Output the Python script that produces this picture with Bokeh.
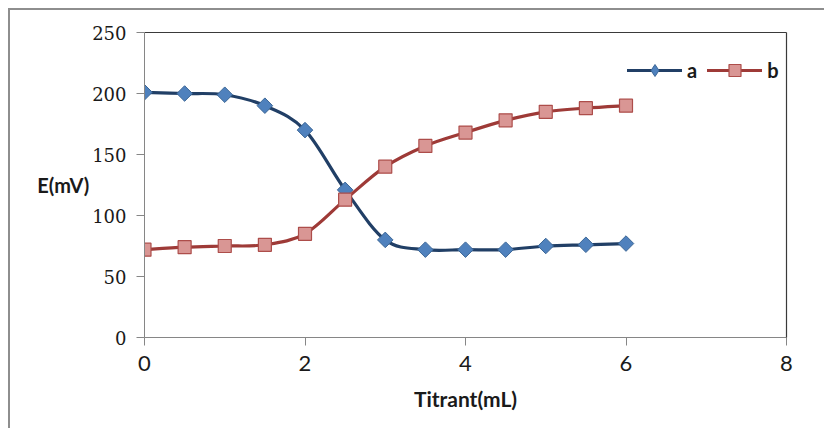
from bokeh.plotting import figure
from bokeh.models import (Range1d, FixedTicker, LinearAxis, Legend, LegendItem,
                          ColumnDataSource)
from bokeh.embed import file_html
from bokeh.resources import INLINE
import math

# ---- data ----
titrant_ml = [0, 0.5, 1, 1.5, 2, 2.5, 3, 3.5, 4, 4.5, 5, 5.5, 6]
series_a_mv = [201, 200, 199, 190, 170, 121, 80, 72, 72, 72, 75, 76, 77]
series_b_mv = [72, 74, 75, 76, 85, 113, 140, 157, 168, 178, 185, 188, 190]
series_names = ["a", "b"]
x_ticks = [0, 2, 4, 6, 8]
y_ticks = [0, 50, 100, 150, 200, 250]
x_axis_title = "Titrant(mL)"
y_axis_title = "E(mV)"


def smooth_source(xs, ys, t=1.0 / 6.0):
    """Cubic Bezier segments through the data points (Excel-style smoothing)."""
    n = len(xs)
    d = dict(x0=[], y0=[], x1=[], y1=[], cx0=[], cy0=[], cx1=[], cy1=[])
    for i in range(n - 1):
        ip = max(i - 1, 0)
        inx = min(i + 2, n - 1)
        d["x0"].append(xs[i]); d["y0"].append(ys[i])
        d["x1"].append(xs[i + 1]); d["y1"].append(ys[i + 1])
        d["cx0"].append(xs[i] + (xs[i + 1] - xs[ip]) * t)
        d["cy0"].append(ys[i] + (ys[i + 1] - ys[ip]) * t)
        d["cx1"].append(xs[i + 1] - (xs[inx] - xs[i]) * t)
        d["cy1"].append(ys[i + 1] - (ys[inx] - ys[i]) * t)
    return ColumnDataSource(d)


p = figure(width=816, height=420, output_backend="svg", toolbar_location=None,
           x_range=Range1d(0, 8), y_range=Range1d(0, 250),
           min_border_left=134, min_border_right=40,
           min_border_top=22, min_border_bottom=93,
           background_fill_color="white", border_fill_color="white")
p.styles = {"margin-left": "8px", "margin-top": "8px",
            "border-left": "2px solid #8e8e8e", "border-top": "2px solid #8e8e8e"}
p.xgrid.visible = False
p.ygrid.visible = False
p.outline_line_color = None

axis_gray = "#868686"
for ax in (p.xaxis[0], p.yaxis[0]):
    ax.axis_line_color = axis_gray
    ax.major_tick_line_color = axis_gray
    ax.minor_tick_line_color = None
    ax.major_tick_in = 0
    ax.major_tick_out = 8
    ax.major_label_text_color = "#1a1a1a"
    ax.axis_label_text_font = "Lato"
    ax.axis_label_text_font_style = "bold"
    ax.axis_label_text_color = "#1a1a1a"

p.xaxis.ticker = FixedTicker(ticks=x_ticks)
p.xaxis.major_label_text_font = "Lato"
p.xaxis.major_label_text_font_size = "22px"
p.xaxis.major_label_standoff = 10
p.xaxis.axis_label = x_axis_title
p.xaxis.axis_label_text_font_size = "21px"
p.xaxis.axis_label_standoff = 12

p.yaxis.ticker = FixedTicker(ticks=y_ticks)
p.yaxis.major_label_text_font = "DejaVu Serif"
p.yaxis.major_label_text_font_size = "18px"
p.yaxis.major_label_standoff = 10
p.yaxis.axis_label = y_axis_title
p.yaxis.axis_label_orientation = "horizontal"
p.yaxis.axis_label_text_font_size = "20px"
p.yaxis.axis_label_standoff = 0

for side in ("above", "right"):
    frame_ax = LinearAxis(ticker=FixedTicker(ticks=[]), axis_line_color="#3a3a3a",
                          axis_line_width=1.2, major_tick_in=0, major_tick_out=0,
                          minor_tick_line_color=None, major_label_text_font_size="0px")
    p.add_layout(frame_ax, side)

# series a
src_a = smooth_source(titrant_ml, series_a_mv)
curve_a = p.bezier(x0="x0", y0="y0", x1="x1", y1="y1", cx0="cx0", cy0="cy0",
                   cx1="cx1", cy1="cy1", source=src_a, line_color="#213f66",
                   line_width=3.2, line_cap="round")
legend_a = p.scatter(titrant_ml, series_a_mv, marker="diamond", size=10,
                     fill_color="#4f81bd", line_color="#3b6696", line_width=1)
p.scatter(titrant_ml, series_a_mv, marker="square", angle=math.pi / 4, size=11,
          fill_color="#4f81bd", line_color="#3b6696", line_width=1)

# series b
src_b = smooth_source(titrant_ml, series_b_mv)
curve_b = p.bezier(x0="x0", y0="y0", x1="x1", y1="y1", cx0="cx0", cy0="cy0",
                   cx1="cx1", cy1="cy1", source=src_b, line_color="#9e3a37",
                   line_width=3.2, line_cap="round")
legend_b = p.scatter(titrant_ml, series_b_mv, marker="square", size=13,
                     fill_color="#d99694", line_color="#ad4d4a", line_width=1.2)

legend = Legend(items=[LegendItem(label=series_names[0], renderers=[curve_a, legend_a]),
                       LegendItem(label=series_names[1], renderers=[curve_b, legend_b])],
                orientation="horizontal", location=(483, 252),
                glyph_width=55, glyph_height=30, label_standoff=5, label_width=10,
                spacing=10, padding=0, margin=0, border_line_color=None,
                background_fill_alpha=0,
                label_text_font="Lato", label_text_font_style="bold",
                label_text_font_size="20px", label_text_color="#1a1a1a",
                label_text_baseline="middle")
p.add_layout(legend, "center")

open("out.html", "w").write(file_html(p, INLINE))
